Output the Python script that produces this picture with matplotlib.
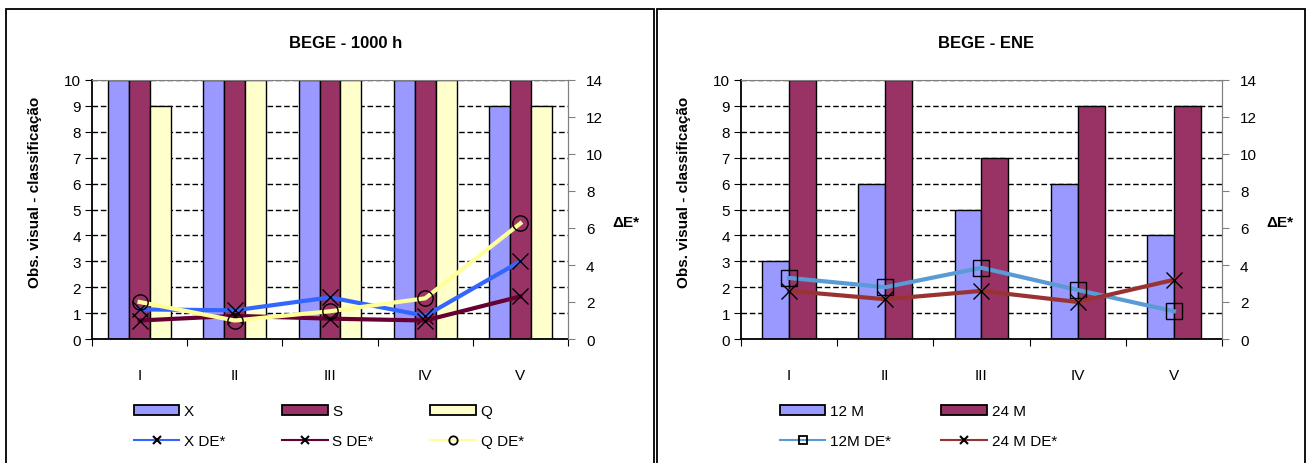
import numpy as np
import matplotlib.pyplot as plt
from matplotlib.patches import Rectangle, Patch
from matplotlib.lines import Line2D

plt.rcParams['font.family'] = ['Liberation Sans', 'DejaVu Sans']

# data ------------------------------------------------------------
cats = ['I', 'II', 'III', 'IV', 'V']

x_vals = [10, 10, 10, 10, 9]
s_vals = [10, 10, 10, 10, 10]
q_vals = [9, 10, 10, 10, 9]
x_de = [1.6, 1.55, 2.25, 1.25, 4.2]
s_de = [1.0, 1.25, 1.1, 1.0, 2.3]
q_de = [2.0, 1.0, 1.5, 2.2, 6.25]

m12_vals = [3, 6, 5, 6, 4]
m24_vals = [10, 10, 7, 9, 9]
m12_de = [3.3, 2.8, 3.85, 2.65, 1.5]
m24_de = [2.6, 2.15, 2.6, 2.0, 3.2]

W, H = 1311, 464
fig = plt.figure(figsize=(W/100, H/100), dpi=100)

# panel borders
for x0, x1 in [(6, 654), (657, 1305)]:
    fig.patches.append(Rectangle((x0/W, -0.05), (x1-x0)/W, (H-10)/H + 0.05,
                                 transform=fig.transFigure, fill=False,
                                 edgecolor='black', linewidth=1.3))

def setup_axes(left_px, right_px, title, center_px):
    ax = fig.add_axes([left_px/W, (H-340)/H, (right_px-left_px)/W, 259/H])
    ax.set_xlim(0, 5)
    ax.set_ylim(0, 10)
    ax.set_yticks(range(11))
    ax.set_xticks(np.arange(6))
    ax.set_xticklabels([])
    ax.set_xticks(np.arange(5) + 0.5, minor=True)
    ax.set_xticklabels(cats, minor=True)
    ax.tick_params(axis='x', which='minor', length=0, pad=21, labelsize=11)
    ax.tick_params(axis='x', which='major', length=5, direction='out')
    ax.tick_params(axis='y', labelsize=11, length=5, direction='out', pad=3)
    ax.yaxis.grid(True, linestyle=(0, (4, 2)), color='black', linewidth=1)
    ax.set_axisbelow(True)
    ax.spines['top'].set_color('gray')
    ax.spines['right'].set_color('gray')
    ax.spines['left'].set_linewidth(1.3)
    ax.spines['bottom'].set_linewidth(1.3)
    fig.text((left_px - 57)/W, (H-192)/H, 'Obs. visual - classificação', rotation=90,
             ha='center', va='center', fontsize=11, fontweight='bold')
    fig.text(center_px/W, (H-44)/H, title, ha='center', va='center',
             fontsize=12, fontweight='bold')
    ax2 = ax.twinx()
    ax2.set_ylim(0, 14)
    ax2.set_yticks(range(0, 15, 2))
    ax2.tick_params(axis='y', labelsize=11, length=5, direction='out', color='gray', pad=8)
    ax2.spines['right'].set_color('gray')
    ax2.spines['top'].set_visible(False)
    ax2.spines['left'].set_visible(False)
    ax2.spines['bottom'].set_visible(False)
    fig.text((right_px + 44)/W, (H-223)/H, 'ΔE*', fontsize=11,
             fontweight='bold', ha='left', va='center')
    return ax, ax2

pos = np.arange(5) + 0.5

# left chart ------------------------------------------------------
ax, ax2 = setup_axes(92, 568, 'BEGE - 1000 h', 346)
bw = 0.22
ax.bar(pos - bw, x_vals, bw, color='#9999FF', edgecolor='black', linewidth=1)
ax.bar(pos, s_vals, bw, color='#993366', edgecolor='black', linewidth=1)
ax.bar(pos + bw, q_vals, bw, color='#FFFFCC', edgecolor='black', linewidth=1)
ax2.plot(pos, x_de, color='#3366FF', linewidth=3, marker='x', markersize=11,
         markeredgecolor='black', markeredgewidth=1)
ax2.plot(pos, s_de, color='#660033', linewidth=3, marker='x', markersize=11,
         markeredgecolor='black', markeredgewidth=1)
ax2.plot(pos, q_de, color='#FFFF99', linewidth=3, marker='o', markersize=11,
         markerfacecolor='none', markeredgecolor='black', markeredgewidth=1)

handles = [Patch(facecolor='#9999FF', edgecolor='black', linewidth=1.3),
           Line2D([], [], color='#3366FF', marker='x', markeredgecolor='black',
                  markersize=6, markeredgewidth=1.5),
           Patch(facecolor='#993366', edgecolor='black', linewidth=1.3),
           Line2D([], [], color='#660033', marker='x', markeredgecolor='black',
                  markersize=6, markeredgewidth=1.5),
           Patch(facecolor='#FFFFCC', edgecolor='black', linewidth=1.3),
           Line2D([], [], color='#FFFF99', marker='o', markerfacecolor='none',
                  markeredgecolor='black', markersize=6, markeredgewidth=1.3)]
labels = ['X', 'X DE*', 'S', 'S DE*', 'Q', 'Q DE*']
fig.legend(handles, labels, loc='center left', bbox_to_anchor=(126/W, (H-427)/H),
           ncol=3, frameon=False, fontsize=11, handlelength=3.0, handleheight=0.55,
           handletextpad=0.3, columnspacing=3.7, labelspacing=1.0, borderpad=0)

# right chart -----------------------------------------------------
ax, ax2 = setup_axes(741, 1222, 'BEGE - ENE', 986)
bw = 0.28
ax.bar(pos - bw/2, m12_vals, bw, color='#9999FF', edgecolor='black', linewidth=1)
ax.bar(pos + bw/2, m24_vals, bw, color='#993366', edgecolor='black', linewidth=1)
ax2.plot(pos, m12_de, color='#5B9BD5', linewidth=3, marker='s', markersize=11,
         markerfacecolor='none', markeredgecolor='black', markeredgewidth=1)
ax2.plot(pos, m24_de, color='#993333', linewidth=3, marker='x', markersize=11,
         markeredgecolor='black', markeredgewidth=1)

handles = [Patch(facecolor='#9999FF', edgecolor='black', linewidth=1.3),
           Line2D([], [], color='#5B9BD5', marker='s', markerfacecolor='none',
                  markeredgecolor='black', markersize=6, markeredgewidth=1.3),
           Patch(facecolor='#993366', edgecolor='black', linewidth=1.3),
           Line2D([], [], color='#993333', marker='x', markeredgecolor='black',
                  markersize=6, markeredgewidth=1.5)]
labels = ['12 M', '12M DE*', '24 M', '24 M DE*']
fig.legend(handles, labels, loc='center left', bbox_to_anchor=(772/W, (H-427)/H),
           ncol=2, frameon=False, fontsize=11, handlelength=3.0, handleheight=0.55,
           handletextpad=0.3, columnspacing=3.3, labelspacing=1.0, borderpad=0)

fig.savefig('out.png', dpi=100)
